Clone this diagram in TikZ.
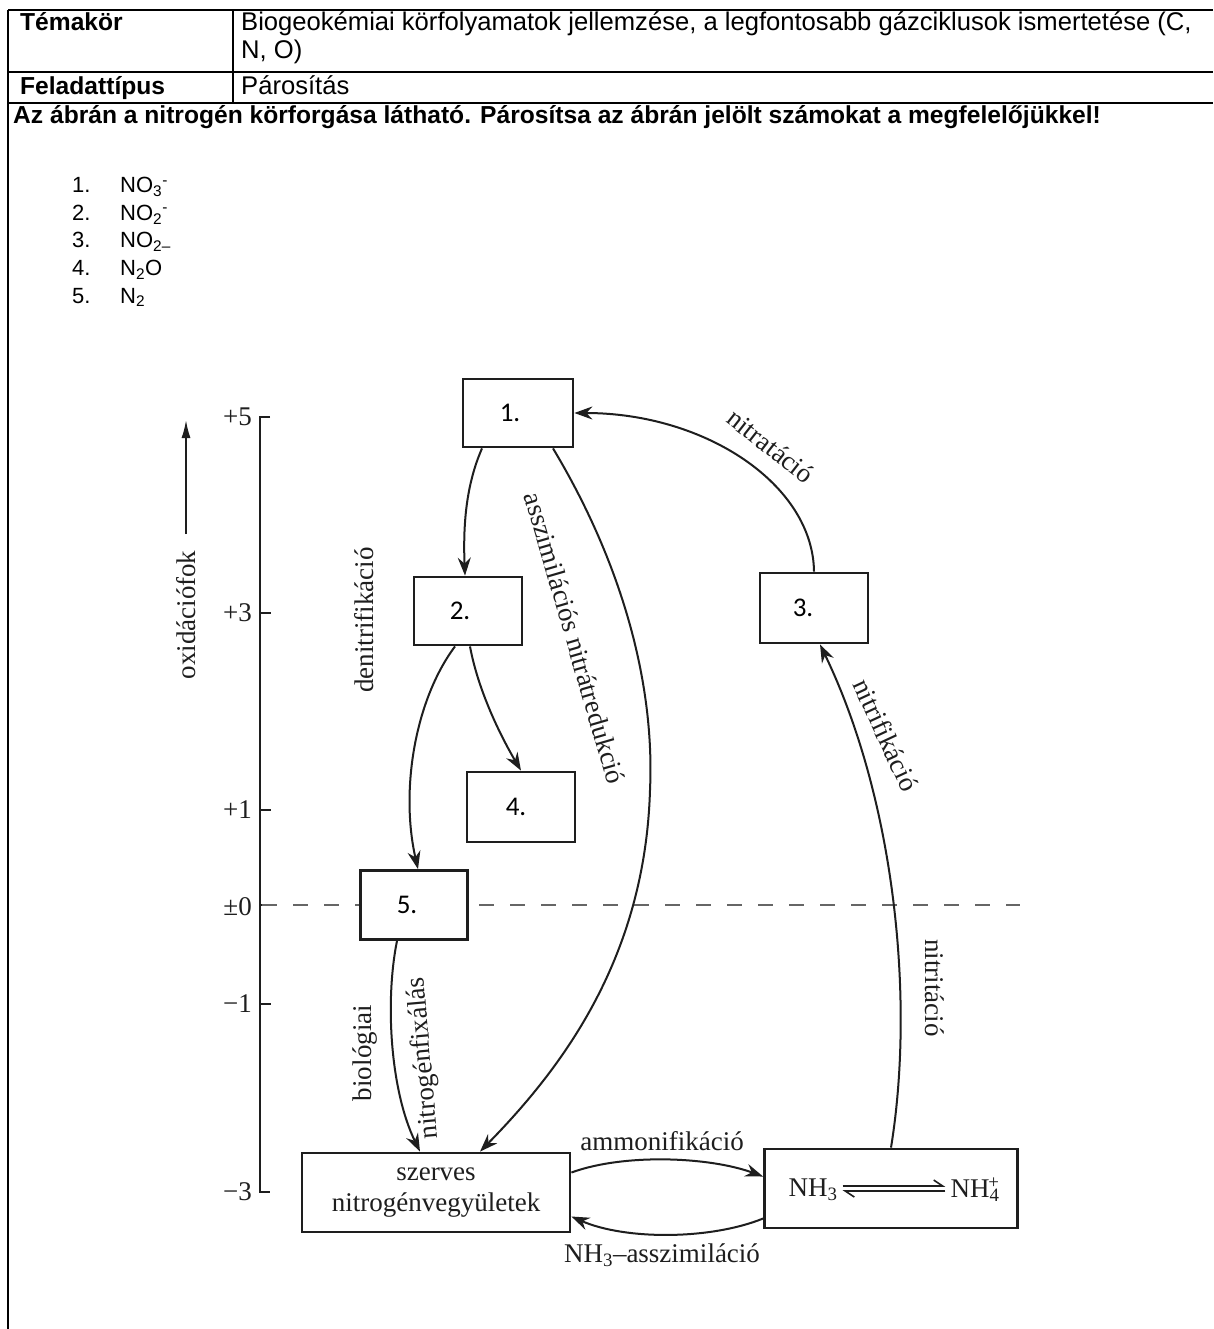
\documentclass[tikz,border=0pt]{standalone}
\usepackage{fontspec}
\setmainfont{Liberation Sans}
\newfontfamily\diagfont{Liberation Serif}
\newfontfamily\boxfont{Carlito}
\usetikzlibrary{arrows.meta}
\definecolor{ink}{HTML}{1E1E1E}
\definecolor{dashgray}{HTML}{666666}

\begin{document}
\begin{tikzpicture}[x=1pt,y=-1pt,
  rule/.style={line width=2.4pt, black},
  hdr/.style={anchor=base west, inner sep=0pt, font=\fontsize{24.6}{28}\selectfont\bfseries},
  txt/.style={anchor=base west, inner sep=0pt, font=\fontsize{25.6}{28}\selectfont},
  item/.style={anchor=base west, inner sep=0pt, font=\fontsize{22}{26}\selectfont},
  numbox/.style={draw=ink, line width=2.8pt, fill=white, minimum width=108pt,
    minimum height=68pt, inner sep=0pt, font=\boxfont\fontsize{27}{30}\selectfont},
  bigbox/.style={draw=ink, line width=2.8pt, fill=white, inner sep=0pt, align=center,
    font=\diagfont\fontsize{27}{31}\selectfont, text=ink},
  lab/.style={inner sep=0pt, text=ink, font=\diagfont\fontsize{27}{31}\selectfont},
  axis/.style={draw=ink, line width=2.2pt},
  zeroline/.style={draw=dashgray, line width=2pt, dash pattern=on 15pt off 16pt},
  flow/.style={draw=ink, line width=2pt, -{Stealth[length=18pt,width=13pt,inset=6pt]}},
  harp/.style={draw=ink, line width=1.6pt, -{Straight Barb[left,length=9pt,width=12pt]}},
]
% canvas
\fill[white] (0,0) rectangle (1213,1329);
\useasboundingbox (0,0) rectangle (1213,1329);

% ---- task table ----
\draw[rule] (8,10) -- (1213,10);
\draw[rule] (8,72) -- (1213,72);
\draw[rule] (8,103) -- (1213,103);
\draw[rule] (8,10) -- (8,1329);
\draw[rule] (233,10) -- (233,103);

\node[hdr] (tk) at (20,31) {Témakör};
\node[txt] (tkv) at (241,31) {Biogeokémiai körfolyamatok jellemzése, a legfontosabb gázciklusok ismertetése (C,};
\node[txt] (tkw) at (241,59) {N, O)};
\node[hdr] (ft) at (20,95) {Feladattípus};
\node[txt] (ftv) at (241,95) {Párosítás};
\node[hdr] (q) at (13,124) {Az ábrán a nitrogén körforgása látható. Párosítsa az ábrán jelölt számokat a megfelelőjükkel!};

\node[item] (n1) at (72,193) {1.};
\node[item] (f1) at (120,193) {NO\textsubscript{3}\textsuperscript{-}};
\node[item] (n2) at (72,220.5) {2.};
\node[item] (f2) at (120,220.5) {NO\textsubscript{2}\textsuperscript{-}};
\node[item] (n3) at (72,248) {3.};
\node[item] (f3) at (120,248) {NO\textsubscript{2–}};
\node[item] (n4) at (72,275.5) {4.};
\node[item] (f4) at (120,275.5) {N\textsubscript{2}O};
\node[item] (n5) at (72,303) {5.};
\node[item] (f5) at (120,303) {N\textsubscript{2}};

% ---- oxidation number scale ----
\draw[axis] (270,417) -- (260,417) -- (260,1192) -- (270,1192);
\foreach \yy in {613,810,905,1004} \draw[axis] (260,\yy) -- (271,\yy);
\node[lab, anchor=east] (a5) at (252,417) {+5};
\node[lab, anchor=east] (a3) at (252,613) {+3};
\node[lab, anchor=east] (a1) at (252,810) {+1};
\node[lab, anchor=east] (a0) at (252,907) {±0};
\node[lab, anchor=east] (am1) at (252,1004) {−1};
\node[lab, anchor=east] (am3) at (252,1192) {−3};
\draw[zeroline] (262,905) -- (1020,905);

\coordinate (oxlo) at (186,534);
\coordinate (oxhi) at (186,420);
\draw[draw=ink, line width=1.8pt, -{Latex[length=18pt,width=9pt]}] (oxlo) -- (oxhi);
\node[lab, rotate=90] (ox) at (186,615) {oxidációfok};

% ---- compartments ----
\node[numbox, minimum width=110pt] (b1) at (518,413) {1.\kern16pt};
\node[numbox] (b2) at (468,611) {2.\kern16pt};
\node[numbox, minimum height=70pt] (b3) at (814,608) {3.\kern22pt};
\node[numbox, minimum height=70pt] (b4) at (521,807) {4.\kern10pt};
\node[numbox, minimum width=107pt, minimum height=69pt] (b5) at (414,905) {5.\kern14pt};
\node[bigbox, minimum width=268pt, minimum height=79pt] (sz) at (436,1192.5) {szerves\\nitrogénvegyületek};
\node[bigbox, minimum width=253pt, minimum height=79pt] (nh) at (891,1188.5) {};

\node[lab] (nh3) at (813,1190) {NH\textsubscript{3}};
\node[lab] (nh4) at (975,1190) {NH\textsubscript{4}\llap{\textsuperscript{+}}};
\draw[harp] ([xshift=5pt,yshift=4pt]nh3.east) -- ([xshift=-5pt,yshift=4pt]nh4.west);
\draw[harp] ([xshift=-5pt,yshift=-1pt]nh4.west) -- ([xshift=5pt,yshift=-1pt]nh3.east);

% ---- transformations ----
\draw[flow] ([xshift=-36pt]b1.south) .. controls (466,485) and (463,525) .. ([xshift=-3pt]b2.north);
\draw[flow] ([xshift=-13pt]b2.south) .. controls (415,700) and (400,790) .. ([xshift=4pt]b5.north);
\draw[flow] ([xshift=2pt]b2.south) .. controls (478,690) and (500,735) .. (b4.north);
\draw[flow] ([xshift=35pt]b1.south) .. controls (620,560) and (655,680) .. (650,790)
  .. controls (645,960) and (560,1070) .. ([xshift=44pt]sz.north);
\draw[flow] (b3.north) .. controls (813,485) and (706,413) .. (b1.east);
\draw[flow] (nh.north) .. controls (915,1000) and (895,800) .. ([xshift=6pt]b3.south);
\draw[flow] ([xshift=-17pt]b5.south) .. controls (385,1000) and (390,1090) .. ([xshift=-16pt]sz.north);
\draw[flow] ([yshift=20pt]sz.east) .. controls (625,1153) and (710,1157) .. ([yshift=12pt]nh.west);
\draw[flow] ([yshift=-30pt]nh.west) .. controls (710,1240) and (625,1240) .. ([yshift=-24pt]sz.east);

% ---- process names ----
\node[lab, rotate=90] (den) at (364,620) {denitrifikáció};
\node[lab, rotate=-73.8] (asz) at (575,638) {asszimilációs nitrátredukció};
\node[lab, rotate=-38] (nta) at (771,446) {nitratáció};
\node[lab, rotate=-65] (nfi) at (886,735) {nitrifikáció};
\node[lab, rotate=-90] (nti) at (935,988) {nitritáció};
\node[lab, rotate=90] (bio) at (365,1053) {biológiai};
\node[lab, rotate=95] (nfx) at (424,1058) {nitrogénfixálás};
\node[lab] (amm) at (662,1141) {ammonifikáció};
\node[lab] (nas) at (662,1255) {NH\textsubscript{3}–asszimiláció};
\end{tikzpicture}
\end{document}
